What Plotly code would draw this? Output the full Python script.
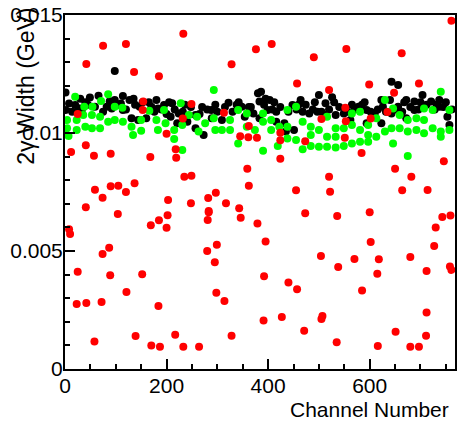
import plotly.graph_objects as go

# ---- data (channel, width in GeV) ----
black_ch = [1, 1, 8, 14, 20, 27, 33, 40, 49, 59, 66, 75, 82, 92, 98, 98, 105, 114, 114, 120,
            127, 131, 138, 144, 147, 153, 160, 170, 176, 183, 190, 195, 200, 208, 211, 216,
            221, 224, 232, 241, 248, 257, 257, 265, 273, 280, 288, 289, 300, 309, 315, 322,
            330, 338, 348, 354, 362, 371, 380, 383, 383, 386, 392, 399, 403, 408, 416, 416,
            424, 432, 435, 440, 448, 451, 456, 464, 468, 474, 481, 488, 497, 500, 505, 513,
            513, 520, 526, 533, 540, 549, 556, 562, 570, 578, 585, 594, 594, 602, 610, 616,
            623, 623, 626, 632, 643, 643, 650, 656, 656, 664, 672, 672, 680, 688, 688, 696,
            704, 712, 721, 728, 737, 737, 745, 753, 757, 762,
            30, 45, 88, 110, 135, 165, 180, 205, 236, 270, 296, 342, 366, 395, 412, 460,
            492, 530, 565, 590, 640, 668, 700, 732, 750]
black_w = [0.01172, 0.01097, 0.01125, 0.0109, 0.01119, 0.01105, 0.01097, 0.0113, 0.0115, 0.01111,
           0.01158, 0.0109, 0.01111, 0.01104, 0.01263, 0.0114, 0.0112, 0.01157, 0.01097, 0.0110,
           0.0114, 0.01062, 0.0112, 0.01055, 0.01111, 0.0113, 0.01062, 0.01111, 0.0109, 0.01104,
           0.0110, 0.01119, 0.0108, 0.01069, 0.01126, 0.0110, 0.01041, 0.01083, 0.0109, 0.01048,
           0.0111, 0.01076, 0.0102, 0.0108, 0.00992, 0.0110, 0.01097, 0.01062, 0.0109, 0.01055,
           0.0111, 0.01128, 0.0109, 0.0112, 0.01111, 0.01069, 0.0111, 0.01083, 0.01168, 0.01133,
           0.01062, 0.01175, 0.0112, 0.01097, 0.0114, 0.0110, 0.0109, 0.01048, 0.0111, 0.01041,
           0.01006, 0.0109, 0.01119, 0.01013, 0.0110, 0.0114, 0.0109, 0.0112, 0.01083, 0.0110,
           0.0109, 0.01161, 0.0109, 0.01126, 0.01076, 0.0110, 0.01151, 0.01076, 0.0111, 0.01083,
           0.0109, 0.01055, 0.0110, 0.01111, 0.0112, 0.01097, 0.01041, 0.0109, 0.01083, 0.0110,
           0.0114, 0.01041, 0.01111, 0.0109, 0.01217, 0.01083, 0.0110, 0.01203, 0.01111, 0.0109,
           0.0114, 0.01062, 0.0111, 0.01133, 0.01097, 0.0110, 0.01161, 0.0112, 0.01133, 0.0110,
           0.0114, 0.01111, 0.0111, 0.01069, 0.01034, 0.0110,
           0.01145, 0.0112, 0.01135, 0.01125, 0.01145, 0.0113, 0.0114, 0.0113, 0.0112, 0.0111,
           0.0112, 0.0113, 0.0111, 0.01145, 0.0113, 0.0112, 0.0113, 0.0113, 0.0112, 0.0113,
           0.0114, 0.0113, 0.0113, 0.0112, 0.0113]

green_ch = [4, 4, 7, 20, 23, 23, 36, 38, 40, 53, 53, 54, 69, 69, 71, 85, 85, 98, 98, 113, 114,
            131, 134, 150, 150, 166, 180, 183, 195, 198, 215, 215, 228, 231, 231, 244, 260, 263,
            276, 293, 293, 296, 309, 325, 325, 341, 341, 358, 358, 374, 390, 390, 390, 406, 406,
            419, 422, 438, 438, 438, 455, 455, 468, 468, 484, 484, 484, 500, 500, 516, 516, 516,
            533, 533, 533, 549, 549, 565, 565, 565, 581, 581, 581, 597, 597, 597, 613, 613, 630,
            630, 643, 646, 646, 659, 659, 675, 675, 675, 692, 692, 707, 707, 707, 724, 724, 740,
            740, 740, 757, 757]
green_w = [0.01055, 0.0102, 0.00987, 0.01154, 0.01013, 0.01055, 0.01076, 0.01111, 0.01027, 0.0102,
           0.01076, 0.01111, 0.0102, 0.01069, 0.01136, 0.01164, 0.01048, 0.01111, 0.01055, 0.01107,
           0.01048, 0.01027, 0.00992, 0.01055, 0.0101, 0.01094, 0.01055, 0.01013, 0.01097, 0.01041,
           0.01013, 0.00975, 0.01126, 0.01034, 0.00928, 0.01076, 0.01069, 0.01006, 0.01041, 0.01182,
           0.01062, 0.01013, 0.01013, 0.01055, 0.01013, 0.01097, 0.00956, 0.01083, 0.01027, 0.01013,
           0.01083, 0.01048, 0.00925, 0.01055, 0.01013, 0.00945, 0.01027, 0.01097, 0.01027, 0.00977,
           0.01111, 0.0097, 0.01048, 0.00931, 0.01027, 0.00992, 0.00945, 0.01013, 0.00942, 0.01069,
           0.00984, 0.00942, 0.0102, 0.00984, 0.00939, 0.0102, 0.00945, 0.01083, 0.01034, 0.00956,
           0.0109, 0.01013, 0.00963, 0.01034, 0.00992, 0.00963, 0.01062, 0.00984, 0.0114, 0.01006,
           0.0102, 0.01104, 0.00956, 0.01076, 0.0102, 0.01055, 0.01006, 0.00903, 0.01062, 0.01013,
           0.01104, 0.01055, 0.00999, 0.01097, 0.0102, 0.01175, 0.01006, 0.00984, 0.01097, 0.01013]

red_ch = [8, 10, 12, 23, 25, 25, 41, 41, 42, 42, 57, 58, 59, 72, 74, 74, 75, 87, 89, 90,
          90, 104, 105, 120, 120, 121, 136, 137, 139, 152, 153, 154, 168, 169, 170, 184, 185, 185,
          187, 200, 200, 202, 203, 217, 218, 219, 232, 233, 233, 235, 248, 249, 249, 264, 280,
          281, 282, 283, 283, 295, 297, 298, 299, 313, 314, 317, 328, 328, 343, 345, 346, 359,
          361, 362, 362, 376, 378, 379, 391, 392, 395, 407, 424, 424, 424, 427, 440, 455, 457,
          457, 471, 473, 473, 490, 504, 505, 505, 507, 520, 520, 522, 535, 536, 538, 551, 552,
          553, 554, 570, 584, 585, 599, 600, 602, 602, 615, 616, 618, 635, 648, 650, 651, 663,
          664, 680, 680, 682, 697, 697, 711, 712, 712, 714, 727, 730, 743, 746, 758, 759, 761, 761]
red_w = [0.00592, 0.00572, 0.0092, 0.00275, 0.0108, 0.00412, 0.00948, 0.00685, 0.01292, 0.0028,
         0.00904, 0.00116, 0.0076, 0.00284, 0.00726, 0.00487, 0.0137, 0.00514, 0.00397, 0.00912,
         0.00774, 0.00657, 0.00777, 0.01377, 0.0075, 0.00326, 0.01258, 0.00787, 0.0014, 0.00401,
         0.01097, 0.01133, 0.00898, 0.00609, 0.001, 0.00267, 0.0124, 0.0063, 0.00094, 0.00997,
         0.00599, 0.00651, 0.00716, 0.00145, 0.00931, 0.00895, 0.01061, 0.01421, 0.00094, 0.00815,
         0.00702, 0.01123, 0.00819, 0.00094, 0.005, 0.00631, 0.00725, 0.0067, 0.00664, 0.00452,
         0.00747, 0.00323, 0.00527, 0.01086, 0.00288, 0.00702, 0.01291, 0.00141, 0.00681, 0.00986,
         0.00641, 0.00849, 0.00982, 0.0103, 0.00777, 0.01355, 0.0098, 0.00616, 0.00206, 0.00393,
         0.0054, 0.01377, 0.01001, 0.00969, 0.00891, 0.0022, 0.00366, 0.00757, 0.0121, 0.00338,
         0.00162, 0.00965, 0.0066, 0.01321, 0.00479, 0.01059, 0.00212, 0.00225, 0.01182, 0.00815,
         0.00751, 0.00113, 0.00648, 0.00432, 0.0098, 0.01107, 0.0105, 0.01356, 0.00466, 0.00915,
         0.00333, 0.01205, 0.00664, 0.01061, 0.00538, 0.00404, 0.00097, 0.00465, 0.01089, 0.01171,
         0.00849, 0.00158, 0.01338, 0.00757, 0.00475, 0.00094, 0.00815, 0.0121, 0.00094, 0.00141,
         0.00415, 0.00239, 0.00758, 0.00521, 0.006, 0.00644, 0.0088, 0.00434, 0.0065, 0.01476, 0.0042]

x_ticks = [0, 200, 400, 600]
y_ticks = [0, 0.005, 0.01, 0.015]
y_tick_text = ["0", "0.005", "0.01", "0.015"]

FONT = "Liberation Sans, Arial, Helvetica, sans-serif"
FS = 21
MS = 8

fig = go.Figure()
fig.add_trace(go.Scatter(x=black_ch, y=black_w, mode="markers",
                         marker=dict(color="#000000", size=MS, line=dict(width=0)), showlegend=False))
fig.add_trace(go.Scatter(x=green_ch, y=green_w, mode="markers",
                         marker=dict(color="#00ff00", size=MS, line=dict(width=0)), showlegend=False))
fig.add_trace(go.Scatter(x=red_ch, y=red_w, mode="markers",
                         marker=dict(color="#ff0000", size=MS, line=dict(width=0)), showlegend=False))

fig.update_layout(
    width=458, height=421,
    margin=dict(l=65, r=1, t=15, b=52),
    paper_bgcolor="white", plot_bgcolor="white",
    font=dict(family=FONT, size=FS, color="black"),
    xaxis=dict(range=[0, 768], tickvals=x_ticks, ticks="inside", ticklen=10, tickwidth=1.5,
               tickcolor="black", showline=True, linecolor="black", linewidth=2, mirror=True,
               showgrid=False, zeroline=False, ticklabelstandoff=-3,
               minor=dict(dtick=50, tick0=0, ticks="inside", ticklen=5, tickwidth=1.5,
                          tickcolor="black", showgrid=False)),
    yaxis=dict(range=[0, 0.015], tickvals=y_ticks, ticktext=y_tick_text, ticks="inside",
               ticklen=10, tickwidth=1.5, tickcolor="black", showline=True, linecolor="black",
               linewidth=2, mirror=True, showgrid=False, zeroline=False, ticklabelstandoff=-4,
               minor=dict(dtick=0.001, tick0=0, ticks="inside", ticklen=5, tickwidth=1.5,
                          tickcolor="black", showgrid=False)),
    annotations=[
        dict(text="2γ Width (GeV)", textangle=-90, xref="paper", yref="paper",
             x=-0.102, y=0.798, xanchor="center", yanchor="middle", showarrow=False,
             font=dict(family=FONT, size=23, color="black")),
        dict(text="Channel Number", xref="paper", yref="paper", x=0.99, y=-0.113,
             xanchor="right", yanchor="middle", showarrow=False,
             font=dict(family=FONT, size=FS, color="black")),
    ],
)

fig.write_html("out.html", config={"displayModeBar": False},
               post_script="document.body.style.margin='0px';")
